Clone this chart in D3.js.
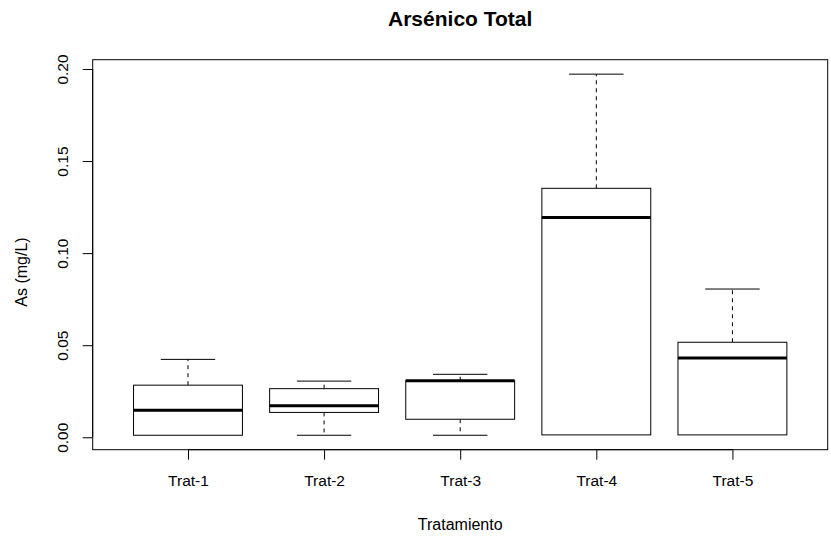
<!DOCTYPE html>
<html>
<head>
<meta charset="utf-8">
<script src="https://cdn.jsdelivr.net/npm/d3@7"></script>
<style>
  html, body { margin: 0; padding: 0; background: #fff; }
  svg { display: block; font-family: "Liberation Sans", Arial, sans-serif; }
</style>
</head>
<body>
<svg id="chart" width="831" height="537"></svg>
<script>
const categories = ["Trat-1", "Trat-2", "Trat-3", "Trat-4", "Trat-5"];
const whiskerLow  = [0.0011, 0.0011, 0.0011, 0.0013, 0.0013];
const q1          = [0.0011, 0.0135, 0.0098, 0.0013, 0.0013];
const medians     = [0.0147, 0.0171, 0.0307, 0.1194, 0.0431];
const q3          = [0.0283, 0.0264, 0.0307, 0.1352, 0.0516];
const whiskerHigh = [0.0423, 0.0305, 0.0342, 0.1972, 0.0805];
const yTicks = [0, 0.05, 0.10, 0.15, 0.20];
const title = "Arsénico Total";
const xTitle = "Tratamiento";
const yTitle = "As (mg/L)";

const W = 831, H = 537;
const plot = { left: 92.7, right: 827.7, top: 59.7, bottom: 449.7 };
const svg = d3.select("#chart");

const lo = d3.min(whiskerLow), hi = d3.max(whiskerHigh);
const ext = (hi - lo) * 0.04;
const y = d3.scaleLinear().domain([lo - ext, hi + ext]).range([plot.bottom, plot.top]);
const n = categories.length;
const x = d3.scaleLinear().domain([0.5 - 0.2, n + 0.5 + 0.2]).range([plot.left, plot.right]);

const data = categories.map((c, i) => ({
  cat: c, pos: i + 1, lw: whiskerLow[i], q1: q1[i], med: medians[i], q3: q3[i], hw: whiskerHigh[i]
}));

const boxHalf = 0.4, stapleHalf = 0.2;
const g = svg.append("g");

// whiskers (dashed)
g.selectAll("line.wu").data(data).enter().append("line")
  .attr("x1", d => x(d.pos)).attr("x2", d => x(d.pos))
  .attr("y1", d => y(d.q3)).attr("y2", d => y(d.hw))
  .attr("stroke", "#000").attr("stroke-width", 1).attr("stroke-dasharray", "4,4");
g.selectAll("line.wl").data(data.filter(d => d.lw < d.q1)).enter().append("line")
  .attr("x1", d => x(d.pos)).attr("x2", d => x(d.pos))
  .attr("y1", d => y(d.q1)).attr("y2", d => y(d.lw))
  .attr("stroke", "#000").attr("stroke-width", 1).attr("stroke-dasharray", "4,4");
// staples
g.selectAll("line.su").data(data).enter().append("line")
  .attr("x1", d => x(d.pos - stapleHalf)).attr("x2", d => x(d.pos + stapleHalf))
  .attr("y1", d => y(d.hw)).attr("y2", d => y(d.hw))
  .attr("stroke", "#000").attr("stroke-width", 1);
g.selectAll("line.sl").data(data.filter(d => d.lw < d.q1)).enter().append("line")
  .attr("x1", d => x(d.pos - stapleHalf)).attr("x2", d => x(d.pos + stapleHalf))
  .attr("y1", d => y(d.lw)).attr("y2", d => y(d.lw))
  .attr("stroke", "#000").attr("stroke-width", 1);
// boxes
g.selectAll("rect.box").data(data).enter().append("rect")
  .attr("x", d => x(d.pos - boxHalf)).attr("width", d => x(d.pos + boxHalf) - x(d.pos - boxHalf))
  .attr("y", d => y(d.q3)).attr("height", d => y(d.q1) - y(d.q3))
  .attr("fill", "#fff").attr("stroke", "#000").attr("stroke-width", 1);
// medians
g.selectAll("line.med").data(data).enter().append("line")
  .attr("x1", d => x(d.pos - boxHalf)).attr("x2", d => x(d.pos + boxHalf))
  .attr("y1", d => y(d.med)).attr("y2", d => y(d.med))
  .attr("stroke", "#000").attr("stroke-width", 3);

// frame
svg.append("rect")
  .attr("x", plot.left).attr("y", plot.top)
  .attr("width", plot.right - plot.left).attr("height", plot.bottom - plot.top)
  .attr("fill", "none").attr("stroke", "#000").attr("stroke-width", 1);

// y axis
const yAxis = d3.axisLeft(y).tickValues(yTicks).tickSize(10).tickFormat(d3.format(".2f"));
const ya = svg.append("g").attr("transform", `translate(${plot.left},0)`).call(yAxis);
ya.select(".domain").remove();
ya.append("line").attr("x1", 0).attr("x2", 0)
  .attr("y1", y(yTicks[0])).attr("y2", y(yTicks[yTicks.length - 1])).attr("stroke", "#000");
ya.selectAll(".tick line").attr("stroke", "#000");
ya.selectAll(".tick text")
  .attr("x", 0).attr("y", 0).attr("dy", null)
  .attr("transform", `translate(${68 - plot.left},0) rotate(-90)`)
  .attr("text-anchor", "middle")
  .attr("font-size", 15.5).attr("font-family", "Liberation Sans, Arial, sans-serif")
  .attr("fill", "#000");

// x axis
const xAxis = d3.axisBottom(x).tickValues(data.map(d => d.pos)).tickSize(10)
  .tickFormat(p => categories[p - 1]);
const xa = svg.append("g").attr("transform", `translate(0,${plot.bottom})`).call(xAxis);
xa.select(".domain").remove();
xa.append("line").attr("y1", 0).attr("y2", 0)
  .attr("x1", x(1)).attr("x2", x(n)).attr("stroke", "#000");
xa.selectAll(".tick line").attr("stroke", "#000");
xa.selectAll(".tick text")
  .attr("y", 486.5 - plot.bottom).attr("dy", null)
  .attr("font-size", 15.5).attr("font-family", "Liberation Sans, Arial, sans-serif")
  .attr("fill", "#000");

// titles
svg.append("text").attr("x", (plot.left + plot.right) / 2).attr("y", 26)
  .attr("text-anchor", "middle").attr("font-weight", "bold").attr("font-size", 21)
  .text(title);
svg.append("text").attr("x", (plot.left + plot.right) / 2).attr("y", 530)
  .attr("text-anchor", "middle").attr("font-size", 16)
  .text(xTitle);
svg.append("text").attr("transform", "translate(26.5,272) rotate(-90)")
  .attr("text-anchor", "middle").attr("font-size", 16)
  .text(yTitle);
</script>
</body>
</html>
